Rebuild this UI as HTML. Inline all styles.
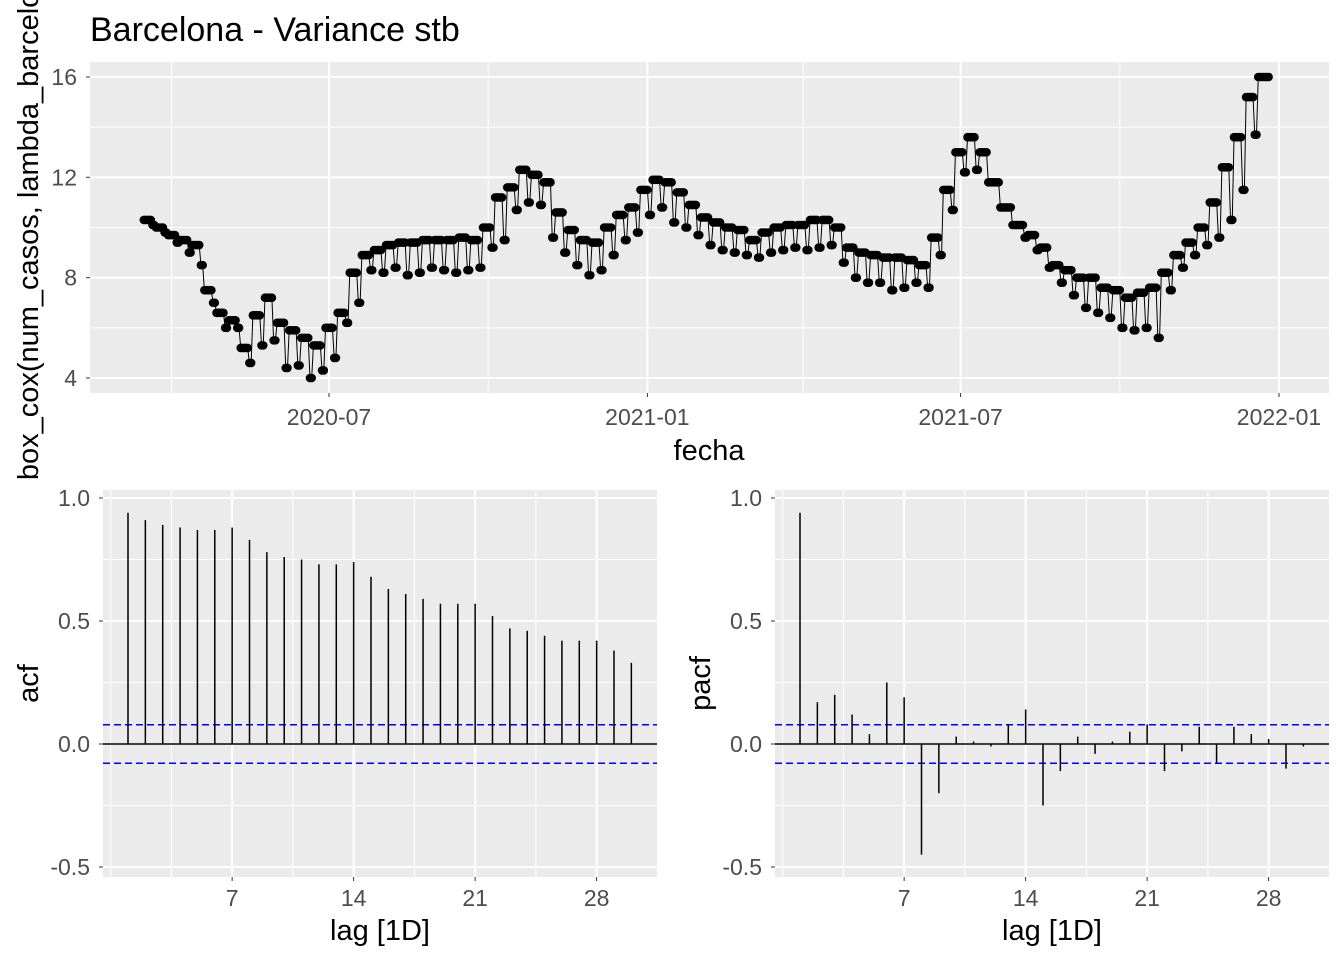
<!DOCTYPE html>
<html><head><meta charset="utf-8"><style>
body{margin:0;background:#fff;}
svg{display:block;font-family:"Liberation Sans",Arial,sans-serif;}
</style></head><body>
<svg id="c" width="1344" height="960"></svg>
<script>
// Time series: weekly high (weekday) and low (weekend) levels, starting 2020-03-16
const weekHigh=[10.3,10.0,9.7,9.5,9.3,7.5,6.6,6.3,5.2,6.5,7.2,6.2,5.9,5.6,5.3,6.0,6.6,8.2,8.9,9.1,9.3,9.4,9.4,9.5,9.5,9.5,9.6,9.5,10.0,11.2,11.6,12.3,12.1,11.8,10.6,9.9,9.5,9.4,10.0,10.5,10.8,11.5,11.9,11.8,11.4,10.9,10.4,10.2,10.0,9.9,9.5,9.8,10.0,10.1,10.1,10.3,10.3,10.0,9.2,9.0,8.9,8.8,8.8,8.7,8.5,9.6,11.5,13.0,13.6,13.0,11.8,10.8,10.1,9.7,9.2,8.5,8.3,8.0,8.0,7.6,7.5,7.2,7.4,7.6,8.2,8.9,9.4,10.0,11.0,12.4,13.6,15.2,16.0];
const weekLow=[10.1,9.8,9.4,9.0,8.5,7.0,6.0,6.0,4.6,5.3,5.5,4.4,4.5,4.0,4.3,4.8,6.2,7.0,8.3,8.2,8.4,8.1,8.2,8.4,8.3,8.2,8.3,8.4,9.2,9.5,10.7,11.0,10.9,9.6,9.0,8.5,8.1,8.3,8.9,9.5,9.8,10.5,10.8,10.2,10.0,9.7,9.3,9.1,9.0,8.9,8.8,9.0,9.1,9.2,9.1,9.2,9.3,8.6,8.0,7.8,7.8,7.5,7.6,7.8,7.6,8.9,10.7,12.2,12.3,11.8,10.8,10.1,9.6,9.1,8.4,7.8,7.3,6.8,6.6,6.4,6.0,5.9,6.0,5.6,7.5,8.4,8.9,9.3,9.6,10.3,11.5,13.7,16.0];
const startDate="2020-03-16";
const dateTicks=["2020-07-01","2021-01-01","2021-07-01","2022-01-01"];
const dateTickLabels=["2020-07","2021-01","2021-07","2022-01"];
const dateMinor=["2020-04-01","2020-10-01","2021-04-01","2021-10-01"];
const yTicks=[4,8,12,16];
const acfVals=[0.94,0.91,0.89,0.88,0.87,0.87,0.88,0.83,0.78,0.76,0.75,0.73,0.73,0.74,0.68,0.63,0.61,0.59,0.57,0.57,0.57,0.52,0.47,0.46,0.44,0.42,0.42,0.42,0.38,0.33];
const pacfVals=[0.94,0.17,0.2,0.12,0.04,0.25,0.19,-0.45,-0.2,0.03,0.01,-0.01,0.08,0.14,-0.25,-0.11,0.03,-0.04,0.01,0.05,0.08,-0.11,-0.03,0.07,-0.08,0.07,0.04,0.02,-0.1,-0.01];
const ciBound=0.078;
const lagTicks=[7,14,21,28];
const corrTicks=[1.0,0.5,0.0,-0.5];
const corrTickLabels=["1.0","0.5","0.0","-0.5"];

const svg=document.getElementById('c');
const NS="http://www.w3.org/2000/svg";
function el(tag,attrs,parent){const e=document.createElementNS(NS,tag);for(const k in attrs)e.setAttribute(k,attrs[k]);(parent||svg).appendChild(e);return e;}
function txt(s,attrs,parent){const e=el('text',attrs,parent);e.textContent=s;return e;}
const day=864e5;
function dnum(s){return Date.parse(s+"T00:00:00Z")/day;}
const TICK=23, TITLE=29;

// ---- top panel ----
const T={x0:90,x1:1329,y0:62,y1:393};
const d0=dnum("2020-07-01"),d1=dnum("2022-01-01");
const xT=d=>329+(d-d0)*(1279-329)/(d1-d0);
const yT=v=>378-(v-4)*(378-77)/12;
const gTop=el('g',{});

el('rect',{x:T.x0,y:T.y0,width:T.x1-T.x0,height:T.y1-T.y0,fill:'#ebebeb'},gTop);
[6,10,14].forEach(v=>el('line',{x1:T.x0,x2:T.x1,y1:yT(v),y2:yT(v),stroke:'#fff','stroke-width':1},gTop));
dateMinor.forEach(d=>el('line',{x1:xT(dnum(d)),x2:xT(dnum(d)),y1:T.y0,y2:T.y1,stroke:'#fff','stroke-width':1},gTop));
yTicks.forEach(v=>{el('line',{x1:T.x0,x2:T.x1,y1:yT(v),y2:yT(v),stroke:'#fff','stroke-width':2},gTop);
 el('line',{x1:T.x0-4,x2:T.x0,y1:yT(v),y2:yT(v),stroke:'#333','stroke-width':1},gTop);
 const t=txt(String(v),{x:T.x0-13,y:yT(v)+8,'text-anchor':'end','font-size':TICK,fill:'#4d4d4d'},gTop);});
dateTicks.forEach((d,i)=>{const x=xT(dnum(d));el('line',{x1:x,x2:x,y1:T.y0,y2:T.y1,stroke:'#fff','stroke-width':2},gTop);
 el('line',{x1:x,x2:x,y1:T.y1,y2:T.y1+4,stroke:'#333','stroke-width':1},gTop);
 const t=txt(dateTickLabels[i],{x:x,y:T.y1+32,'text-anchor':'middle','font-size':TICK,fill:'#4d4d4d'},gTop);});
const pts=[];const s0=dnum(startDate);
weekHigh.forEach((h,w)=>{for(let k=0;k<7;k++){const v=k<5?h:weekLow[w];pts.push([xT(s0+w*7+k),yT(v)]);}});
const line=el('polyline',{points:pts.map(p=>p.join(',')).join(' '),fill:'none',stroke:'#000','stroke-width':1},gTop);

pts.forEach(p=>{const c=el('circle',{cx:p[0],cy:p[1],r:4.3,fill:'#000'},gTop);});
let t=txt("Barcelona - Variance stb",{x:90,y:41,'font-size':34,fill:'#000'});
t=txt("fecha",{x:709,y:460,'text-anchor':'middle','font-size':TITLE,fill:'#000'});
t=txt("box_cox(num_casos, lambda_barcelona)",{x:0,y:0,'text-anchor':'middle','font-size':TITLE,fill:'#000',transform:'translate(38,215) rotate(-90)'});

// ---- correlogram panels ----
function corr(px0,px1,lag1x,vals,name,title){
 const P={x0:px0,x1:px1,y0:490,y1:877};
 const xL=l=>lag1x+(l-1)*(121.5/7);
 const yC=v=>744-v*246;
 const g=el('g',{});
 el('rect',{x:P.x0,y:P.y0,width:P.x1-P.x0,height:P.y1-P.y0,fill:'#ebebeb'},g);
 [0.75,0.25,-0.25].forEach(v=>el('line',{x1:P.x0,x2:P.x1,y1:yC(v),y2:yC(v),stroke:'#fff','stroke-width':1},g));
 [0,3.5,10.5,17.5,24.5].forEach(l=>el('line',{x1:xL(l),x2:xL(l),y1:P.y0,y2:P.y1,stroke:'#fff','stroke-width':1},g));
 corrTicks.forEach((v,i)=>{el('line',{x1:P.x0,x2:P.x1,y1:yC(v),y2:yC(v),stroke:'#fff','stroke-width':2},g);
  el('line',{x1:P.x0-4,x2:P.x0,y1:yC(v),y2:yC(v),stroke:'#333'},g);
  const t=txt(corrTickLabels[i],{x:P.x0-13,y:yC(v)+8,'text-anchor':'end','font-size':TICK,fill:'#4d4d4d'},g);});
 lagTicks.forEach(l=>{const x=xL(l);el('line',{x1:x,x2:x,y1:P.y0,y2:P.y1,stroke:'#fff','stroke-width':2},g);
  el('line',{x1:x,x2:x,y1:P.y1,y2:P.y1+4,stroke:'#333'},g);
  const t=txt(String(l),{x:x,y:P.y1+29,'text-anchor':'middle','font-size':TICK,fill:'#4d4d4d'},g);});
 el('line',{x1:P.x0,x2:P.x1,y1:yC(0),y2:yC(0),stroke:'#000','stroke-width':1.5},g);
 [ciBound,-ciBound].forEach(v=>{const l=el('line',{x1:P.x0,x2:P.x1,y1:yC(v),y2:yC(v),stroke:'#0000ff','stroke-width':1.5,'stroke-dasharray':'7,4'},g);});
 vals.forEach((v,i)=>{const x=xL(i+1);const b=el('line',{x1:x,x2:x,y1:yC(0),y2:yC(v),stroke:'#000','stroke-width':1.5},g);});
 let t=txt("lag [1D]",{x:(P.x0+P.x1)/2,y:940,'text-anchor':'middle','font-size':TITLE,fill:'#000'},g);
 t=txt(title,{x:0,y:0,'text-anchor':'middle','font-size':TITLE,fill:'#000',transform:'translate('+(P.x0-65)+','+((P.y0+P.y1)/2)+') rotate(-90)'},g);
}
corr(103,657,128,acfVals,'acf','acf');
corr(775,1329,800,pacfVals,'pacf','pacf');
</script>
</body></html>
